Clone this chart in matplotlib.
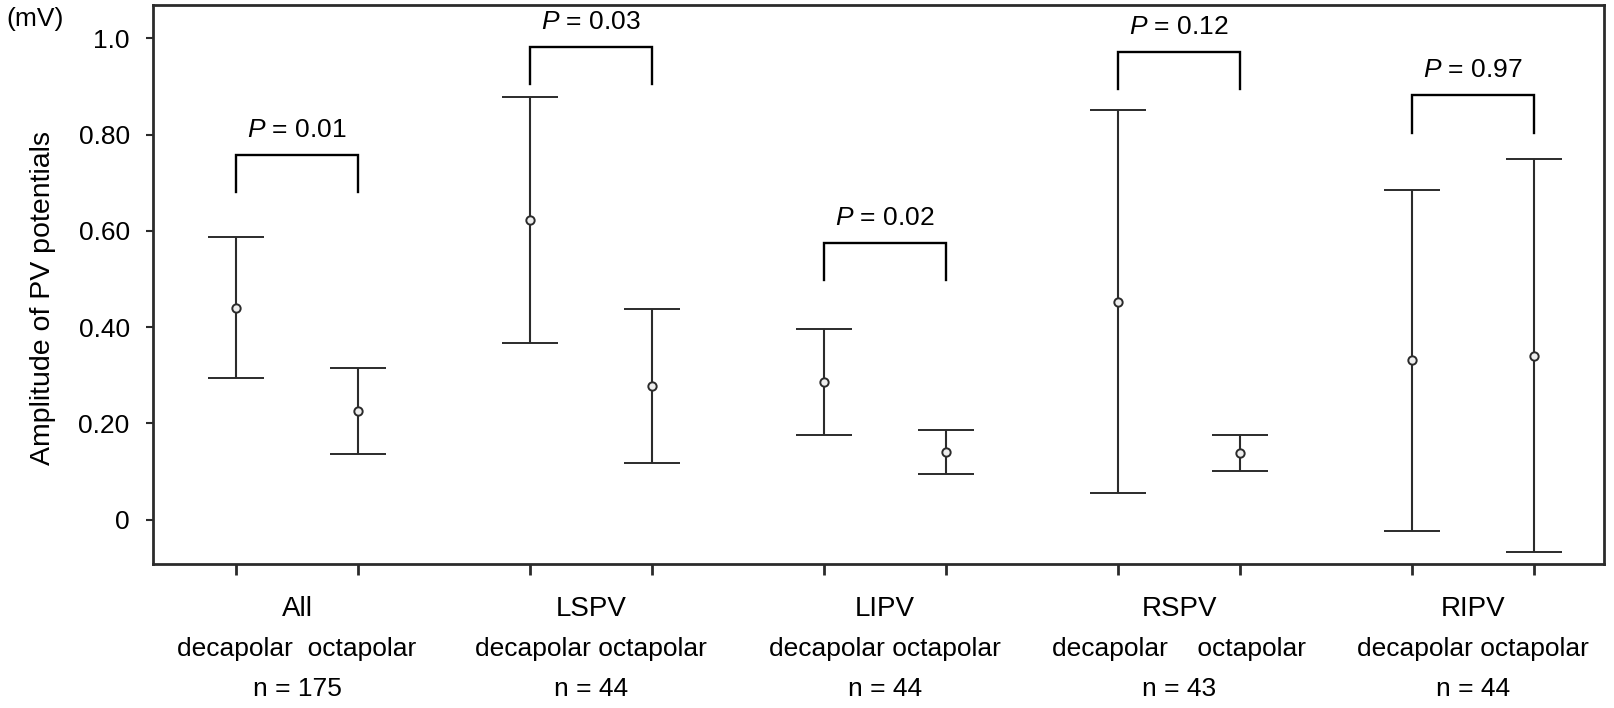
import numpy as np
import matplotlib
matplotlib.use("Agg")
import matplotlib.pyplot as plt

plt.rcParams['font.family'] = ['Liberation Sans', 'DejaVu Sans']
plt.rcParams['mathtext.fontset'] = 'custom'
plt.rcParams['mathtext.it'] = 'Liberation Sans:italic'
plt.rcParams['mathtext.rm'] = 'Liberation Sans'

# dados (mV)
grupos = ["All", "LSPV", "LIPV", "RSPV", "RIPV"]
n_grupo = [175, 44, 44, 43, 44]
p_valores = ["0.01", "0.03", "0.02", "0.12", "0.97"]

media_deca = [0.440, 0.622, 0.286, 0.453, 0.331]
sup_deca = [0.588, 0.878, 0.396, 0.852, 0.685]
inf_deca = [0.294, 0.367, 0.175, 0.055, -0.023]

media_octa = [0.225, 0.278, 0.141, 0.139, 0.340]
sup_octa = [0.315, 0.437, 0.186, 0.175, 0.750]
inf_octa = [0.136, 0.118, 0.095, 0.102, -0.068]

topo_colchete = [0.758, 0.983, 0.575, 0.972, 0.882]

rotulos_y = ["0", "0.20", "0.40", "0.60", "0.80", "1.0"]
valores_y = [0, 0.2, 0.4, 0.6, 0.8, 1.0]
rotulos_tipo = ["decapolar  octapolar", "decapolar octapolar", "decapolar octapolar",
                "decapolar    octapolar", "decapolar octapolar"]

cor = "#2b2b2b"
fs = 19

fig = plt.figure(figsize=(16.15, 7.08), dpi=100)
ax = fig.add_axes([0.0949, 0.2034, 0.8985, 0.789])

centros = np.arange(len(grupos))
desloc = 0.207
x_deca = centros - desloc
x_octa = centros + desloc

for xs, m, s, i in [(x_deca, media_deca, sup_deca, inf_deca),
                    (x_octa, media_octa, sup_octa, inf_octa)]:
    m = np.array(m)
    err = [m - np.array(i), np.array(s) - m]
    ax.errorbar(xs, m, yerr=err, fmt='o', color=cor, ecolor=cor, elinewidth=1.5,
                capsize=20, capthick=1.5, markersize=6, mfc='#eeeeee', mec=cor, mew=1.4)

# colchetes com valor de P
queda = 0.078
for k in range(len(grupos)):
    t = topo_colchete[k]
    ax.plot([x_deca[k], x_deca[k], x_octa[k], x_octa[k]], [t - queda, t, t, t - queda],
            color='black', lw=1.7, solid_joinstyle='miter')
    ax.text(centros[k], t + 0.052, r"$\it{P}$ = " + p_valores[k], ha='center', va='center',
            fontsize=fs, color='black')

ax.set_xlim(-0.489, 4.446)
ax.set_ylim(-0.092, 1.0686)
ax.set_yticks(valores_y)
ax.set_yticklabels(rotulos_y, fontsize=fs)
ax.set_xticks(np.concatenate([x_deca, x_octa]))
ax.set_xticklabels([])
ax.tick_params(axis='y', direction='out', length=5, width=1.5, color=cor, pad=12)
ax.tick_params(axis='x', direction='out', length=8, width=2, color=cor)
for sp in ax.spines.values():
    sp.set_color(cor)
    sp.set_linewidth(2)

ax.set_ylabel("Amplitude of PV potentials", fontsize=20.5)
ax.yaxis.set_label_coords(-0.067, 0.476)
fig.text(0.004, 0.973, "(mV)", fontsize=fs, ha='left', va='center')

# rótulos do eixo x em três linhas
for k in range(len(grupos)):
    ax.text(centros[k], -0.185, grupos[k], ha='center', va='center', fontsize=fs + 1,
            clip_on=False)
    ax.text(centros[k], -0.268, rotulos_tipo[k], ha='center', va='center', fontsize=fs,
            clip_on=False)
    ax.text(centros[k], -0.352, f"n = {n_grupo[k]}", ha='center', va='center', fontsize=fs,
            clip_on=False)

fig.savefig("out.png", dpi=100)
